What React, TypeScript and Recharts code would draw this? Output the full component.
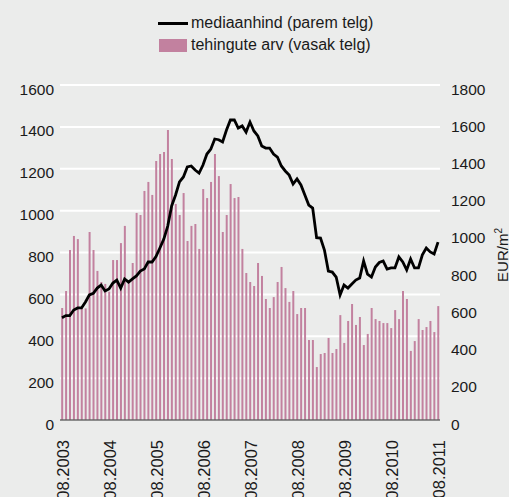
import React from 'react';
import { ComposedChart, Bar, Line, XAxis, YAxis, CartesianGrid } from 'recharts';

// monthly categories 08.2003 .. 08.2011
const months: string[] = [];
for (let y = 2003; y <= 2011; y++) {
  for (let m = 1; m <= 12; m++) {
    if ((y === 2003 && m < 8) || (y === 2011 && m > 8)) continue;
    months.push(`${String(m).padStart(2, '0')}.${y}`);
  }
}

const tickLabels = ['08.2003', '08.2004', '08.2005', '08.2006', '08.2007', '08.2008', '08.2009', '08.2010', '08.2011'];
const leftTicks = [0, 200, 400, 600, 800, 1000, 1200, 1400, 1600];
const rightTicks = [0, 200, 400, 600, 800, 1000, 1200, 1400, 1600, 1800];

// tehingute arv (vasak telg)
const transactions = [
  535, 616, 812, 879, 864, 533, 533, 898, 812, 712, 659, 650, 613, 764, 764, 845,
  927, 653, 750, 989, 979, 1094, 1137, 1075, 1237, 1270, 1280, 1385, 1247, 1032, 979, 1084,
  855, 927, 936, 817, 1103, 1060, 1137, 1270, 1165, 898, 979, 1127, 1060, 1065, 817, 702,
  659, 640, 750, 688, 578, 535, 587, 659, 731, 630, 564, 616, 506, 535, 535, 382,
  382, 253, 315, 320, 392, 320, 339, 501, 368, 473, 554, 454, 492, 358, 411, 535,
  482, 473, 463, 463, 439, 525, 482, 616, 578, 330, 377, 482, 430, 444, 473, 420, 544,
];

// mediaanhind (parem telg)
const medianPrice = [
  550, 561, 561, 591, 602, 602, 634, 672, 681, 709, 725, 693, 704, 736, 752, 709,
  758, 741, 758, 774, 800, 811, 849, 849, 878, 924, 972, 1042, 1150, 1209, 1279, 1306,
  1360, 1365, 1343, 1327, 1370, 1429, 1456, 1510, 1506, 1494, 1558, 1612, 1612, 1569, 1580, 1547,
  1601, 1553, 1526, 1472, 1461, 1461, 1429, 1413, 1365, 1338, 1316, 1268, 1295, 1263, 1209, 1155,
  1139, 980, 978, 913, 800, 795, 768, 672, 725, 709, 731, 752, 763, 854, 784, 768,
  822, 846, 854, 811, 817, 817, 876, 849, 806, 865, 817, 817, 887, 924, 903, 892, 956,
];

const data = months.map((month, i) => ({ month, count: transactions[i], price: medianPrice[i] }));

const FONT = '"Liberation Sans", Arial, Helvetica, sans-serif';
const BG = '#ebeceb';
const BAR = '#c2819f';
const TXT = '#1a1a1a';

const XTick = (props: any) => {
  const { x, y, payload } = props;
  if (!tickLabels.includes(payload.value)) return <g />;
  const ty = y + 20;
  return (
    <text x={x + 1} y={ty} transform={`rotate(-90 ${x + 1} ${ty})`} textAnchor="end" dominantBaseline="central"
      fontSize={16.5} fontFamily={FONT} fill={TXT}>
      {payload.value}
    </text>
  );
};

const LeftTick = (props: any) => {
  const { y, payload } = props;
  return (
    <text x={54} y={y + 4} textAnchor="end" dominantBaseline="central" fontSize={15.5} fontFamily={FONT} fill={TXT}>
      {payload.value}
    </text>
  );
};

const RightTick = (props: any) => {
  const { y, payload } = props;
  return (
    <text x={451} y={y + 4} textAnchor="start" dominantBaseline="central" fontSize={15.5} fontFamily={FONT} fill={TXT}>
      {payload.value}
    </text>
  );
};

export default function App() {
  return (
    <div style={{ position: 'fixed', left: 0, top: 0, width: 509, height: 497, background: BG, overflow: 'hidden', fontFamily: FONT }}>
      <ComposedChart width={509} height={497} data={data} margin={{ top: 85, right: 0, bottom: 0, left: 0 }} barCategoryGap="30%">
        <CartesianGrid yAxisId="left" vertical={false} stroke="#ffffff" strokeWidth={2} />
        <XAxis dataKey="month" interval={0} height={77} tick={<XTick />} tickLine={false} axisLine={{ stroke: '#666666', strokeWidth: 1.5 }} tickSize={0} tickMargin={0} />
        <YAxis yAxisId="left" orientation="left" width={60} domain={[0, 1600]} ticks={leftTicks} tick={<LeftTick />} axisLine={false} tickLine={false} />
        <YAxis yAxisId="right" orientation="right" width={69} domain={[0, 1800]} ticks={rightTicks} tick={<RightTick />} axisLine={false} tickLine={false} />
        <Bar yAxisId="left" dataKey="count" fill={BAR} isAnimationActive={false} />
        <Line yAxisId="right" dataKey="price" stroke="#000000" strokeWidth={2.8} dot={false} type="linear" isAnimationActive={false} />
      </ComposedChart>
      <div style={{ position: 'absolute', left: 158, top: 14, fontSize: 16, color: TXT, lineHeight: '18px' }}>
        <div style={{ display: 'flex', alignItems: 'center', height: 18 }}>
          <div style={{ width: 30, height: 3, background: '#000', marginRight: 3 }} />
          <span>mediaanhind (parem telg)</span>
        </div>
        <div style={{ display: 'flex', alignItems: 'center', height: 18, marginTop: 4 }}>
          <div style={{ width: 28, height: 13, background: BAR, marginLeft: 1, marginRight: 4 }} />
          <span>tehingute arv (vasak telg)</span>
        </div>
      </div>
      <div style={{ position: 'absolute', left: 502, top: 255, transform: 'translate(-50%, -50%) rotate(-90deg)', fontSize: 15, color: TXT, whiteSpace: 'nowrap' }}>
        EUR/m<span style={{ fontSize: 10, verticalAlign: 'super', lineHeight: 0 }}>2</span>
      </div>
    </div>
  );
}
